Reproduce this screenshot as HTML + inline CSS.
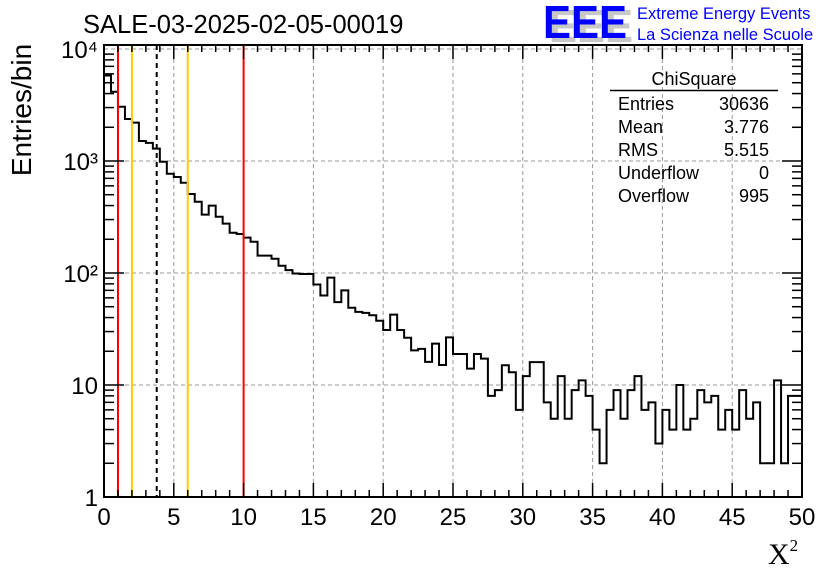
<!DOCTYPE html>
<html><head><meta charset="utf-8"><style>
html,body{margin:0;padding:0;background:#fff;}
svg{display:block;font-family:"Liberation Sans",sans-serif;}
</style></head><body>
<svg id="c" width="836" height="572" viewBox="0 0 836 572">
<text x="83" y="33" font-size="25.5" fill="#000">SALE-03-2025-02-05-00019</text>
<g>
<text x="549" y="42" font-size="46" font-weight="bold" fill="#c8c8c8" textLength="84" lengthAdjust="spacingAndGlyphs">EEE</text>
<text x="543" y="38" font-size="46" font-weight="bold" fill="#0000ff" textLength="84" lengthAdjust="spacingAndGlyphs">EEE</text>
<text x="637" y="19" font-size="16.5" fill="#0000ff">Extreme Energy Events</text>
<text x="637" y="40" font-size="16.5" fill="#0000ff">La Scienza nelle Scuole</text>
</g>
<g id="grid"></g>
<g id="marks"></g>
<g id="axes"></g>
<g font-size="18">
<text x="694" y="85" text-anchor="middle">ChiSquare</text>
<line x1="610" y1="90.5" x2="778" y2="90.5" stroke="#000" stroke-width="1.5"/>
<text x="618" y="110">Entries</text><text x="769" y="110" text-anchor="end">30636</text>
<text x="618" y="133">Mean</text><text x="769" y="133" text-anchor="end">3.776</text>
<text x="618" y="156">RMS</text><text x="769" y="156" text-anchor="end">5.515</text>
<text x="618" y="179">Underflow</text><text x="769" y="179" text-anchor="end">0</text>
<text x="618" y="202">Overflow</text><text x="769" y="202" text-anchor="end">995</text>
</g>
<text transform="translate(31,110) rotate(-90)" font-size="28" text-anchor="middle">Entries/bin</text>
<text x="768" y="564" font-size="30" font-family="Liberation Serif,serif">X<tspan font-size="17" dy="-13">2</tspan></text>
</svg>
<script>
const counts=[5800,4150,3050,2370,2200,1510,1450,1290,985,770,720,640,508,433,332,400,318,276,229,223,207,190,143,143,134,116,106,99,98,98,79,63,91,55,70,49,45,44,42,37.5,31,42.5,31,26.4,20.4,21,16.1,23.4,15.1,26.6,18.9,18.9,14,18.9,17.2,8,9,15,13,6,12,16,16,7,5,12,5,9,11,8,4,2,6,9,5,9,12,6,7,3,6,4,10,4,5,9,7,8,4,6,4,9,5,7,2,2,11,2,8,8];
const xTicks=[0,5,10,15,20,25,30,35,40,45,50];
const yDecades=[1,10,100,1000,10000];
const yLabels=["1","10","10²","10³","10⁴"];
const vLines=[1,2,3.776,6,10];
const vColors=["#ff0000","#ffcc00","#000000","#ffcc00","#ff0000"];
const X0=104,X1=802,Y0=497,YT=45,binW=0.5;
const sx=v=>X0+(v/50)*(X1-X0);
const sy=v=>Y0-Math.log10(v)*112;
const NS="http://www.w3.org/2000/svg";
function mk(t,a,p){const e=document.createElementNS(NS,t);for(const k in a)e.setAttribute(k,a[k]);p.appendChild(e);return e;}
const grid=document.getElementById('grid'),marks=document.getElementById('marks'),axes=document.getElementById('axes');
xTicks.forEach(t=>{if(t>0&&t<50){const l=mk('line',{x1:sx(t),x2:sx(t),y1:YT,y2:Y0,stroke:'#999','stroke-dasharray':'4,3','stroke-width':1},grid);

}});
yDecades.forEach(d=>{if(d>1&&sy(d)>YT){const l=mk('line',{x1:X0,x2:X1,y1:sy(d),y2:sy(d),stroke:'#999','stroke-dasharray':'4,3','stroke-width':1},grid);

}});
let d='M'+X0+','+Y0;
counts.forEach((c,i)=>{const y=sy(Math.max(c,1));d+=' L'+sx(i*binW)+','+y+' L'+sx((i+1)*binW)+','+y;});
const h=mk('path',{d:d,fill:'none',stroke:'#000','stroke-width':2},marks);


vLines.forEach((v,i)=>{const l=mk('line',{x1:sx(v),x2:sx(v),y1:YT,y2:Y0,stroke:vColors[i],'stroke-width':2},marks);
if(i==2)l.setAttribute('stroke-dasharray','5,4');

});
const f=mk('rect',{x:X0,y:YT,width:X1-X0,height:Y0-YT,fill:'none',stroke:'#000','stroke-width':2},axes);


for(let v=0;v<=50;v+=1){const big=v%5==0;const len=big?14:7;
mk('line',{x1:sx(v),x2:sx(v),y1:Y0,y2:Y0-len,stroke:'#000','stroke-width':1.5},axes);
mk('line',{x1:sx(v),x2:sx(v),y1:YT,y2:YT+len,stroke:'#000','stroke-width':1.5},axes);}
xTicks.forEach(t=>{const e=mk('text',{x:sx(t),y:525,'font-size':24,'text-anchor':'middle'},axes);e.textContent=t;

});
for(let p=0;p<4;p++)for(let m=1;m<10;m++){const v=m*Math.pow(10,p);const y=sy(v);if(y<YT)continue;const len=m==1?20:10;
mk('line',{x1:X0,x2:X0+len,y1:y,y2:y,stroke:'#000','stroke-width':1.5},axes);
mk('line',{x1:X1,x2:X1-len,y1:y,y2:y,stroke:'#000','stroke-width':1.5},axes);}
yDecades.forEach((d,i)=>{const e=mk('text',{x:98,y:sy(d)+9,'font-size':24,'text-anchor':'end'},axes);e.textContent=yLabels[i];

});
</script>
</body></html>
